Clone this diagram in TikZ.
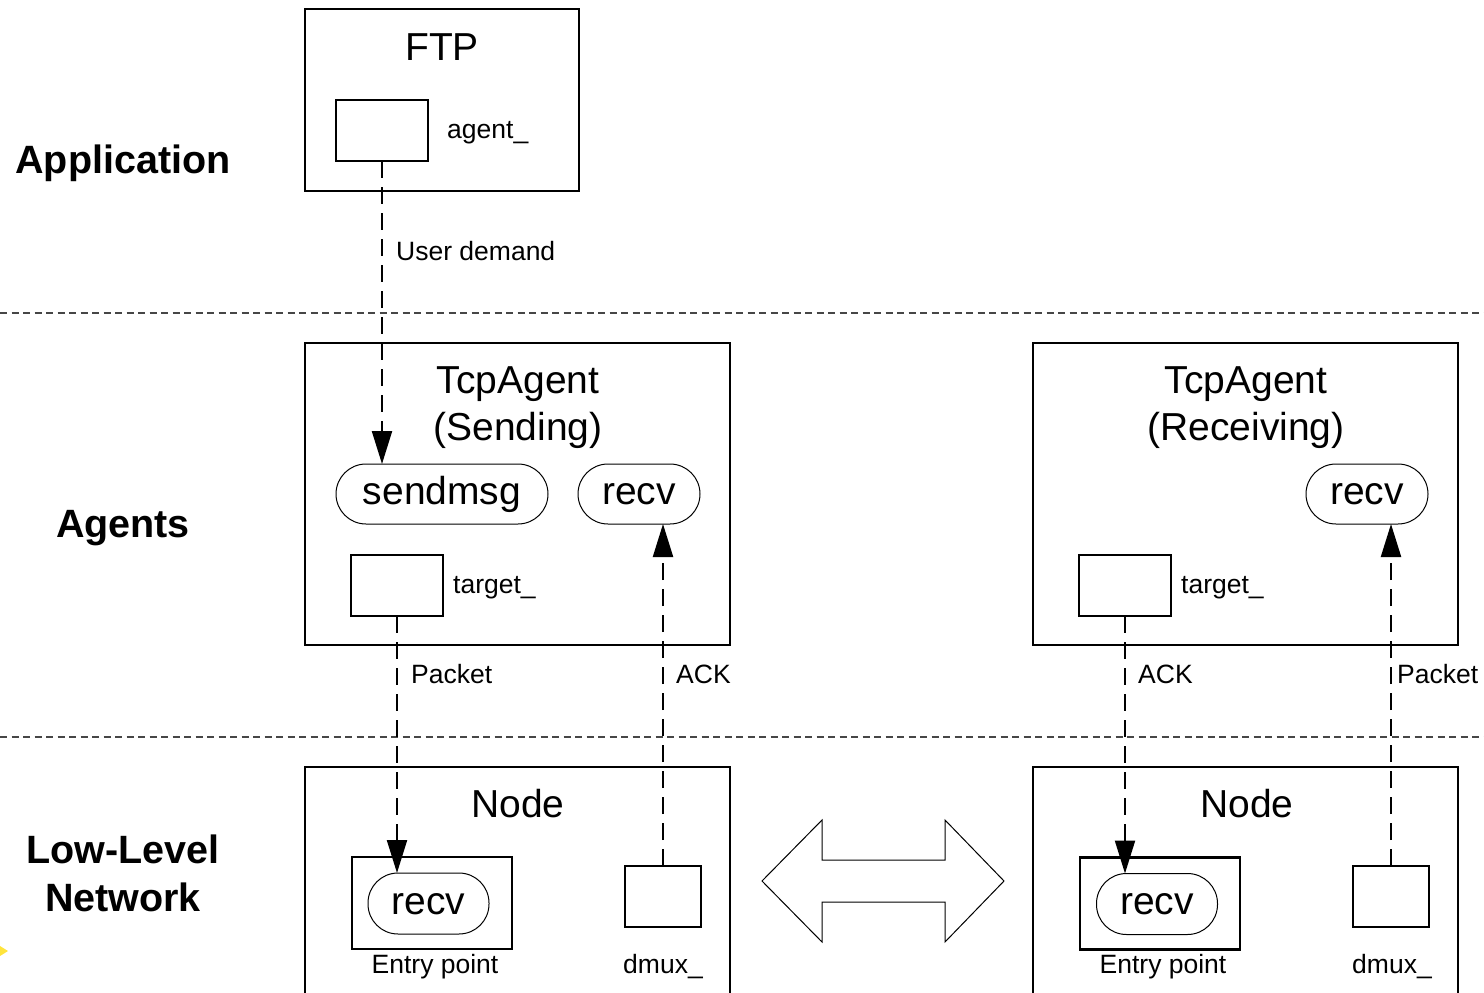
\documentclass[tikz,border=0pt]{standalone}
\usepackage{fontspec}
\setmainfont{Liberation Sans}
\usetikzlibrary{arrows.meta}
\definecolor{sepgray}{RGB}{70,70,70}
\definecolor{markyellow}{RGB}{255,228,60}
\newcommand\nsBig{\fontsize{39}{47}\selectfont}
\newcommand\nsSmall{\fontsize{26.5}{32}\selectfont}
\newcommand\nsLayer{\fontsize{39.5}{48}\selectfont\bfseries}

\begin{document}
\begin{tikzpicture}[x=1pt,y=-1pt,
  frame/.style={draw, line width=2pt, inner sep=0pt, outer sep=0pt},
  hollow/.style={inner sep=0pt, outer sep=0pt},
  pill/.style={draw, line width=1pt, rounded corners=30pt, inner sep=0pt,
    outer sep=0pt, minimum height=60pt, font=\nsBig, text height=21pt, text depth=0pt},
  title/.style={font=\nsBig, anchor=base, inner sep=0pt},
  lbl/.style={font=\nsSmall, anchor=base west, inner sep=0pt},
  clbl/.style={font=\nsSmall, anchor=base, inner sep=0pt},
  layer/.style={font=\nsLayer, anchor=base, inner sep=0pt},
  sep/.style={draw=sepgray, line width=1.1pt, dash pattern=on 7pt off 4.5pt},
  conn/.style={line width=2.2pt, dash pattern=on 17pt off 9pt,
    -{Triangle[length=33pt,width=20pt]}},
]
\useasboundingbox (0,0) rectangle (1484,993);

% layer separators
\draw[sep] (0,313) -- (1484,313);
\draw[sep] (0,737) -- (1484,737);

% layer names
\node[layer] (lApp) at (123,173) {Application};
\node[layer] (lAg) at (123,537) {Agents};
\node[layer] (lLow) at (123,863) {Low-Level};
\node[layer] (lNet) at (123,911) {Network};

% application
\node[frame, minimum width=274pt, minimum height=182pt] (ftp) at (442,100) {};
\node[title] (ftpT) at (442,60) {FTP};
\node[frame, minimum width=92pt, minimum height=61pt] (agentbox) at (382,130.5) {};
\node[lbl] (agentL) at (447,138) {agent\_};

% sending agent
\node[frame, minimum width=425pt, minimum height=302pt] (sendA) at (517.5,494) {};
\node[title] (sendT1) at (518,393) {TcpAgent};
\node[title] (sendT2) at (518,440) {(Sending)};
\node[pill, minimum width=212pt] (sendmsg) at (442,494) {sendmsg};
\node[pill, minimum width=122pt] (srecv) at (639,494) {recv};
\node[frame, minimum width=92pt, minimum height=61pt] (stgt) at (397,585.5) {};
\node[lbl] (stgtL) at (453,593) {target\_};

% receiving agent
\node[frame, minimum width=425pt, minimum height=302pt] (recvA) at (1245.5,494) {};
\node[title] (recvT1) at (1246,393) {TcpAgent};
\node[title] (recvT2) at (1246,440) {(Receiving)};
\node[pill, minimum width=122pt] (rrecv) at (1367,494) {recv};
\node[frame, minimum width=92pt, minimum height=61pt] (rtgt) at (1125,585.5) {};
\node[lbl] (rtgtL) at (1181,593) {target\_};

% low-level nodes (open at the bottom edge)
\node[hollow, minimum width=425pt, minimum height=226pt] (lnode) at (517.5,880) {};
\draw[line width=2pt] (lnode.south west) |- (lnode.north east) -- (lnode.south east);
\node[title] (lnodeT) at (518,817) {Node};
\node[frame, minimum width=160pt, minimum height=92pt, line width=2.4pt] (lentry) at (432,903) {};
\node[pill, minimum width=121pt, minimum height=61pt] (lrecv) at (428.5,903.5) {recv};
\node[clbl] (lentryL) at (435,973) {Entry point};
\node[frame, minimum width=76pt, minimum height=61pt, line width=2.4pt] (ldmux) at (663,896.5) {};
\node[clbl] (ldmuxL) at (663,973) {dmux\_};

\node[hollow, minimum width=425pt, minimum height=226pt] (rnode) at (1245.5,880) {};
\draw[line width=2pt] (rnode.south west) |- (rnode.north east) -- (rnode.south east);
\node[title] (rnodeT) at (1247,817) {Node};
\node[frame, minimum width=160pt, minimum height=92pt, line width=2.4pt] (rentry) at (1160,903.5) {};
\node[pill, minimum width=121pt, minimum height=61pt] (rrecvN) at (1157,904) {recv};
\node[clbl] (rentryL) at (1163,973) {Entry point};
\node[frame, minimum width=76pt, minimum height=61pt, line width=2.4pt] (rdmux) at (1391,896.5) {};
\node[clbl] (rdmuxL) at (1392,973) {dmux\_};

% link between the two nodes
\draw[line width=1pt, line join=miter]
  (762,881) -- (822,820) -- (822,860) -- (945,860) -- (945,820) -- (1004,881)
  -- (945,942) -- (945,902) -- (822,902) -- (822,942) -- cycle;

% message flows
\draw[conn] (agentbox.south) -- (agentbox.south |- sendmsg.north);
\node[lbl] (udL) at (396,260) {User demand};
\draw[conn] (stgt.south) -- (stgt.south |- lrecv.north);
\node[lbl] (pktL) at (411,683) {Packet};
\draw[conn] (ldmux.north) -- (ldmux.north |- srecv.south);
\node[lbl] (ackL) at (676,683) {ACK};
\draw[conn] (rtgt.south) -- (rtgt.south |- rrecvN.north);
\node[lbl] (ack2L) at (1138,683) {ACK};
\draw[conn] (rdmux.north) -- (rdmux.north |- rrecv.south);
\node[lbl] (pkt2L) at (1397,683) {Packet};

% small yellow marker at the left edge
\fill[markyellow] (0,946) -- (8,951) -- (0,956) -- cycle;
\end{tikzpicture}
\end{document}
